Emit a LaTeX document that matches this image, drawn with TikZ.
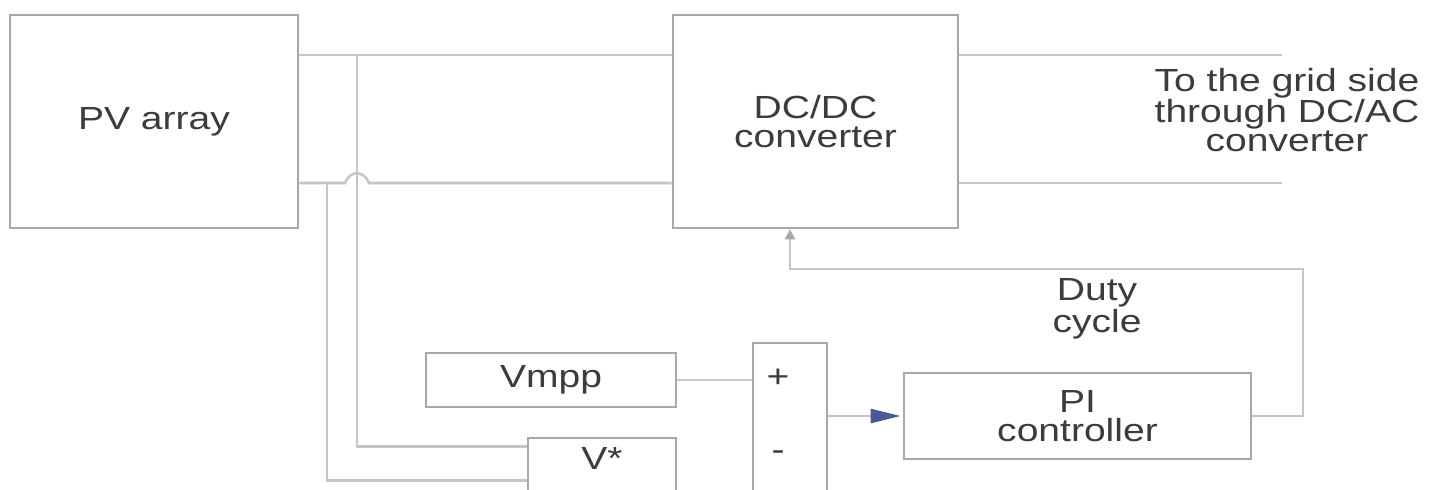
\documentclass[tikz,border=0pt]{standalone}
\usepackage{fontspec}
\setmainfont{Liberation Sans}[FakeStretch=1.22]
\usetikzlibrary{arrows.meta,calc}
\definecolor{boxc}{HTML}{A8A8A8}
\definecolor{wirec}{HTML}{C6C6C6}
\definecolor{txtc}{HTML}{3C3C3C}
\definecolor{arrc}{HTML}{4A5C8E}
\tikzset{
  blk/.style={draw=boxc, line width=1.3pt, fill=white, inner sep=0pt, text=txtc, align=center},
  wire/.style={draw=wirec, line width=1.3pt},
  lbl/.style={text=txtc, align=center, inner sep=0pt},
}
\begin{document}
\begin{tikzpicture}[x=0.5pt,y=-0.5pt,font=\fontsize{16pt}{14.5pt}\selectfont]
\useasboundingbox (0,0) rectangle (1430,489);
\clip (0,0) rectangle (1430,489);
\fill[white] (0,0) rectangle (1430,489);

% helper coordinates
\coordinate (ytop) at (0,55);
\coordinate (ybot) at (0,183);

% blocks
\node[blk, minimum width=144pt, minimum height=106.5pt] (pv) at (154,121.5) {PV array};
\node[blk, minimum width=142.5pt, minimum height=106.5pt] (dc) at (815.5,121.5) {DC/DC\\converter};
\node[blk, minimum width=125pt, minimum height=27pt] (vmpp) at (551,380) {Vmpp};
\node[blk, minimum width=74pt, minimum height=46pt] (vs) at (602,484) {};
\node[lbl] at (602,458) {V*};
\node[blk, minimum width=37pt, minimum height=108.5pt] (sum) at (790,451.5) {};
\node[lbl] at (778,378) {+};
\node[lbl] at (778,456) {-};
\node[blk, minimum width=173.5pt, minimum height=43pt] (pi) at (1077.5,416) {PI\\controller};

% labels
\node[lbl] (grid) at (1287,110) {To the grid side\\through DC/AC\\converter};
\node[lbl] (duty) at (1097,309) {Duty\\cycle};

% junctions and free ends
\coordinate (j1) at (357,55);
\coordinate (j2) at (327,183);
\coordinate (hl) at (345,183);
\coordinate (hr) at (369,183);
\coordinate (o1) at (1282,55);
\coordinate (o2) at (1282,183);
\coordinate (fb) at (1303,269);
\coordinate (fb2) at (790,269);

% power wires
\draw[wire] (pv.east |- ytop) -- (dc.west |- ytop);
\draw[wire] (pv.east |- ybot) -- (hl) .. controls (350,170) and (364,170) .. (hr) -- (dc.west |- ybot);
\draw[wire] (dc.east |- ytop) -- (o1);
\draw[wire] (dc.east |- ybot) -- (o2);

% measurement wires
\draw[wire] (j1) |- ($(vs.north west)+(0,10)$);
\draw[wire] (j2) |- ($(vs.north west)+(0,44)$);

% into summing block
\draw[wire] (vmpp.east) -- (vmpp.east -| sum.west);
\draw[wire] ($(vs.north east)+(0,26)$) -- ($(vs.north east)+(0,26)$ -| sum.west);

% to PI
\draw[wire, -{Triangle[length=15pt,width=7pt,fill=arrc,color=arrc]}] (sum.east |- pi.west) -- ($(pi.west)+(-2,0)$);

% feedback
\draw[wire, -{Triangle[length=5pt,width=5pt,fill=boxc,color=boxc]}] (pi.east) -| (fb) -- (fb2) -- (fb2 |- dc.south);
\end{tikzpicture}
\end{document}
